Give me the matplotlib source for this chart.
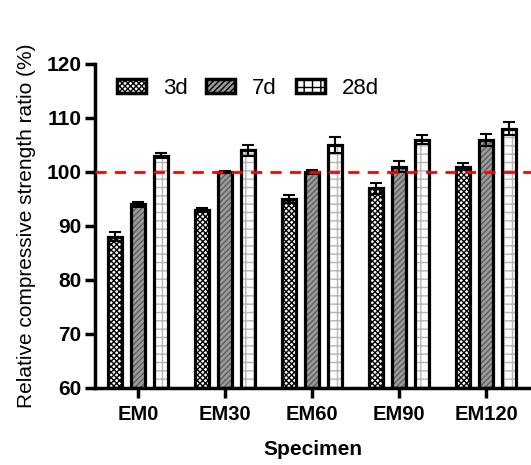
import numpy as np
import matplotlib.pyplot as plt
import matplotlib.patches as mpatches

plt.rcParams['font.family'] = ['Liberation Sans', 'DejaVu Sans']

# Data
specimens = ['EM0', 'EM30', 'EM60', 'EM90', 'EM120']
ages = ['3d', '7d', '28d']
ratio_3d = [88, 93, 95, 97, 101]
ratio_7d = [94, 100, 100, 101, 106]
ratio_28d = [103, 104, 105, 106, 108]
err_3d = [0.8, 0.4, 0.8, 1.0, 0.6]
err_7d = [0.5, 0.2, 0.4, 1.0, 1.1]
err_28d = [0.5, 1.0, 1.4, 0.9, 1.2]

series = [ratio_3d, ratio_7d, ratio_28d]
errors = [err_3d, err_7d, err_28d]
styles = [
    dict(facecolor='white', hatchcolor='black', hatch='xxxxxx'),
    dict(facecolor='#9c9c9c', hatchcolor='#5e5e5e', hatch='//////'),
    dict(facecolor='white', hatchcolor='#b5b5b5', hatch='++'),
]

fig = plt.figure(figsize=(5.31, 4.65), dpi=100)
ax = fig.add_axes([0.1790, 0.1656, 0.8210, 0.6968])

x = np.arange(len(specimens))
width = 0.16
offsets = [-0.264, 0.0, 0.264]

for vals, errs, off, st in zip(series, errors, offsets, styles):
    # hatched fill, then thick outline on top
    ax.bar(x + off, np.array(vals) - 60, width, bottom=60, color=st['facecolor'],
           edgecolor=st['hatchcolor'], hatch=st['hatch'], linewidth=0, zorder=2)
    ax.bar(x + off, np.array(vals) - 60, width, bottom=60, fill=False,
           edgecolor='black', linewidth=2.3, zorder=3)
    ax.errorbar(x + off, vals, yerr=errs, fmt='none', ecolor='black',
                elinewidth=1.5, capsize=4, capthick=1.5, zorder=4)

ax.axhline(100, color='red', linestyle=(0, (4, 3)), linewidth=2, zorder=5)

ax.set_xlim(-0.494, 4.517)
ax.set_ylim(60, 120)
ax.set_yticks(np.arange(60, 121, 10))
ax.set_xticks(x)
ax.set_xticklabels(specimens, fontsize=14.5, fontweight='bold')
for t in ax.get_yticklabels():
    t.set_fontsize(15)
    t.set_fontweight('bold')

ax.spines['top'].set_visible(False)
ax.spines['right'].set_visible(False)
ax.spines['left'].set_linewidth(2.5)
ax.spines['bottom'].set_linewidth(2.5)
ax.tick_params(axis='x', length=7, width=2.5, pad=5)
ax.tick_params(axis='y', length=7, width=2.5, pad=3)

ax.set_xlabel('Specimen', fontsize=15, fontweight='bold', labelpad=12)
ax.set_ylabel('Relative compressive strength ratio (%)', fontsize=15, labelpad=7)

# legend proxies with the fill pattern and thick border
proxies = [mpatches.Patch(facecolor=st['facecolor'], edgecolor='black', hatch=st['hatch'],
                          linewidth=2.5) for st in styles]
ax.legend(proxies, ages, loc='upper left', bbox_to_anchor=(0.03, 0.985), ncol=3,
          frameon=False, fontsize=16, handlelength=1.3, handleheight=0.58,
          columnspacing=0.85, handletextpad=0.76, borderaxespad=0)

fig.savefig('out.png', dpi=100)
